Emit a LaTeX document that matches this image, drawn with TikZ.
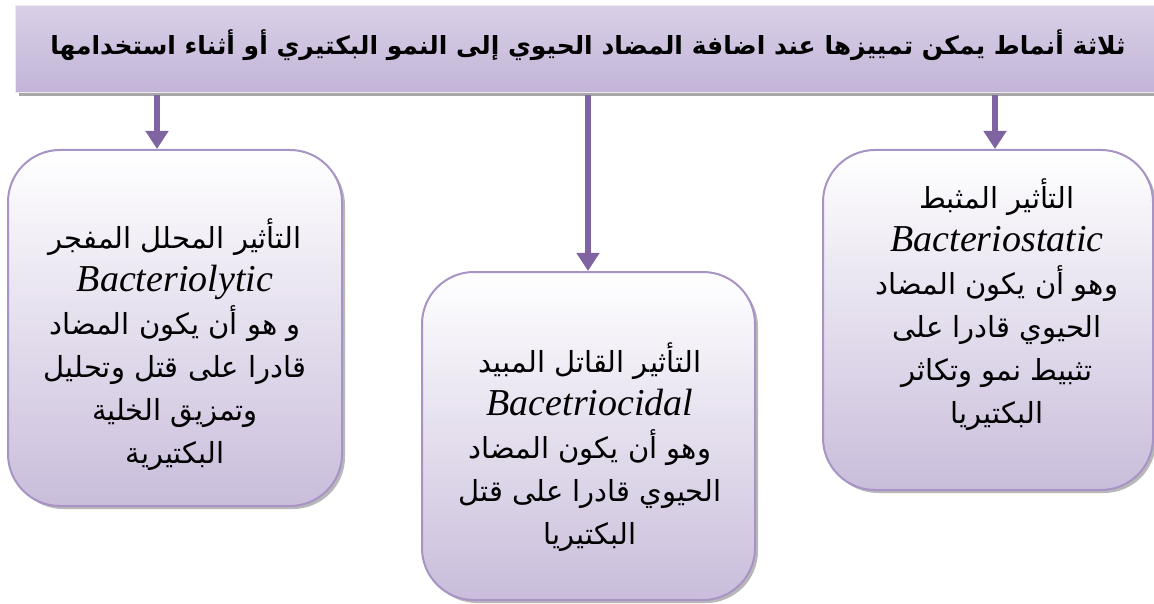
\documentclass[tikz,border=0pt]{standalone}
\usepackage{fontspec}
\setmainfont{Liberation Serif}
\newfontfamily\arfont[Script=Arabic]{DejaVu Sans}
\TeXXeTstate=1
\usetikzlibrary{arrows.meta,shadows}
\definecolor{arrowpurple}{HTML}{8064A2}
\definecolor{cardedge}{HTML}{A794C4}
\definecolor{cardbottom}{HTML}{C9BDDB}
\definecolor{bartop}{HTML}{D9D0E7}
\definecolor{barmid}{HTML}{E7E3EF}
\definecolor{barbottom}{HTML}{C2B4D7}
% one right-to-left Arabic line
\newcommand\arline[1]{{\arfont\beginR #1\endR}}
% one italic Latin term
\newcommand\laline[1]{{\fontsize{38}{43}\selectfont\itshape #1}}
\tikzset{
  headbar/.style={rectangle, draw=white!80!cardedge, line width=0.8pt,
    top color=bartop, middle color=barmid, bottom color=barbottom,
    minimum width=1145pt, minimum height=87pt, inner sep=0pt,
    drop shadow={shadow xshift=4pt, shadow yshift=-4pt, fill=gray!75, opacity=0.9}},
  card/.style={rectangle, draw=cardedge, line width=2pt, rounded corners=52pt,
    top color=white, bottom color=cardbottom, inner sep=0pt,
    drop shadow={shadow xshift=3pt, shadow yshift=-3pt, fill=gray!70, opacity=0.8}},
  cardtext/.style={align=center, inner sep=0pt, font=\fontsize{29}{43}\selectfont},
  headtext/.style={inner sep=0pt, font=\fontsize{25}{30}\selectfont\bfseries},
  link/.style={arrowpurple, line width=6pt, -{Triangle[length=18pt,width=22pt]}},
}
\begin{document}
\begin{tikzpicture}[x=1pt,y=-1pt]
\useasboundingbox (0,0) rectangle (1154,604);

% heading bar
\node[headbar] (hdr) at (587.5,49) {};
\node[headtext] (hdrtxt) at (588,45)
  {\arline{ثلاثة أنماط يمكن تمييزها عند اضافة المضاد الحيوي إلى النمو البكتيري أو أثناء استخدامها}};

% the three cards
\node[card, minimum width=334pt, minimum height=356pt] (lys) at (175,328) {};
\node[card, minimum width=333pt, minimum height=328pt] (cid) at (588.5,436) {};
\node[card, minimum width=330pt, minimum height=340pt] (sta) at (988,320) {};

\node[cardtext] (lystxt) at (175,345) {%
  \arline{التأثير المحلل المفجر}\\
  \laline{Bacteriolytic}\\
  \arline{و هو أن يكون المضاد}\\
  \arline{قادرا على قتل وتحليل}\\
  \arline{وتمزيق الخلية}\\
  \arline{البكتيرية}};

\node[cardtext] (cidtxt) at (590,447) {%
  \arline{التأثير القاتل المبيد}\\
  \laline{Bacetriocidal}\\
  \arline{وهو أن يكون المضاد}\\
  \arline{الحيوي قادرا على قتل}\\
  \arline{البكتيريا}};

\node[cardtext] (statxt) at (997,305) {%
  \arline{التأثير المثبط}\\
  \laline{Bacteriostatic}\\
  \arline{وهو أن يكون المضاد}\\
  \arline{الحيوي قادرا على}\\
  \arline{تثبيط نمو وتكاثر}\\
  \arline{البكتيريا}};

% connectors from the bar down to each card
\coordinate (lysfrom) at (157,95);
\coordinate (cidfrom) at (588,95);
\coordinate (stafrom) at (995,95);
\draw[link] (lysfrom) -- (lysfrom |- lys.north);
\draw[link] (cidfrom) -- (cidfrom |- cid.north);
\draw[link] (stafrom) -- (stafrom |- sta.north);
\end{tikzpicture}
\end{document}
